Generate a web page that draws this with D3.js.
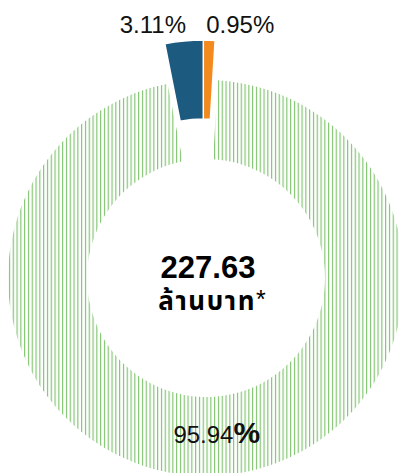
<!DOCTYPE html>
<html>
<head>
<meta charset="utf-8">
<script src="https://cdn.jsdelivr.net/npm/d3@7/dist/d3.min.js"></script>
<style>
  html, body { margin: 0; padding: 0; background: #ffffff; }
  svg { display: block; }
</style>
</head>
<body>
<svg id="chart" width="400" height="473"></svg>
<script>
// Budget split (percent of total), in drawing order clockwise from 12 o'clock
const categories = ["Other", "Main", "Secondary"];
const shares = [0.95, 95.94, 3.11];
const sliceColors = ["#f28a1e", "url(#hatch)", "#1d5a80"];
const explodedSlices = ["Other", "Secondary"];

// Total shown in the hole
const totalValue = 227.63;
const totalUnit = "ล้านบาท";

const svg = d3.select("#chart");
const cx = 206, cy = 278;
const rInner = 119, rOuter = 198;
const explodeDist = 40;

// Vertical line hatch for the large slice
const defs = svg.append("defs");
const pat = defs.append("pattern")
  .attr("id", "hatch")
  .attr("patternUnits", "userSpaceOnUse")
  .attr("x", 0.5).attr("y", 0)
  .attr("width", 3.8).attr("height", 8);
pat.append("rect")
  .attr("x", 0).attr("y", 0)
  .attr("width", 1.15).attr("height", 8)
  .attr("fill", "#80c36e");

const pie = d3.pie().sort(null).value(d => d.value);
const data = categories.map((c, i) => ({ key: c, value: shares[i], color: sliceColors[i] }));
const arcs = pie(data);

const arc = d3.arc().innerRadius(rInner).outerRadius(rOuter);

// Signed mid angle in (-PI, PI]
const midAngle = a => {
  let m = (a.startAngle + a.endAngle) / 2;
  if (m > Math.PI) m -= 2 * Math.PI;
  return m;
};

// The small slices are pulled out together along their shared bisector
const exploded = arcs.filter(a => explodedSlices.includes(a.data.key));
const wSum = d3.sum(exploded, a => a.data.value);
const bisector = d3.sum(exploded, a => midAngle(a) * a.data.value) / wSum;
const off = [explodeDist * Math.sin(bisector), -explodeDist * Math.cos(bisector)];

const g = svg.append("g").attr("transform", `translate(${cx},${cy})`);

g.selectAll("path.slice")
  .data(arcs)
  .join("path")
  .attr("class", "slice")
  .attr("d", arc)
  .attr("fill", d => d.data.color)
  .attr("stroke", d => explodedSlices.includes(d.data.key) ? "#ffffff" : "none")
  .attr("stroke-width", 1.5)
  .attr("transform", d => explodedSlices.includes(d.data.key) ? `translate(${off[0]},${off[1]})` : null);

const fmt = d3.format(".2f");

// Labels above the pulled-out slices
const labelArc = d3.arc().innerRadius(rOuter).outerRadius(rOuter);
exploded.forEach(a => {
  const c = labelArc.centroid(a);
  const m = midAngle(a);
  g.append("text")
    .attr("x", c[0] + off[0] + (m < 0 ? 2 : -3))
    .attr("y", -rOuter + off[1] - 7)
    .attr("text-anchor", m < 0 ? "end" : "start")
    .attr("font-family", "'Liberation Sans', Arial, sans-serif")
    .attr("font-size", 24)
    .attr("fill", "#111111")
    .text(fmt(a.data.value) + "%");
});

// Label inside the large slice
const mainArc = arcs.find(a => !explodedSlices.includes(a.data.key));
const mc = arc.centroid(mainArc);
const mainLabel = g.append("text")
  .attr("x", mc[0])
  .attr("y", mc[1] + 7)
  .attr("text-anchor", "middle")
  .attr("font-family", "'Liberation Sans', Arial, sans-serif")
  .attr("fill", "#111111");
mainLabel.append("tspan").attr("font-size", 24).text(fmt(mainArc.data.value));
mainLabel.append("tspan").attr("font-size", 30).attr("font-weight", "bold").text("%");

// Centre total
g.append("text")
  .attr("x", 2).attr("y", 0)
  .attr("text-anchor", "middle")
  .attr("font-family", "'Liberation Sans', Arial, sans-serif")
  .attr("font-weight", "bold")
  .attr("font-size", 31)
  .attr("fill", "#000000")
  .text(fmt(totalValue));

const unit = g.append("text")
  .attr("x", 6).attr("y", 32)
  .attr("text-anchor", "middle")
  .attr("fill", "#000000");
unit.append("tspan")
  .attr("font-family", "'Noto Sans Thai', 'Noto Sans', 'DejaVu Sans', sans-serif")
  .attr("font-weight", "bold")
  .attr("font-size", 26)
  .attr("letter-spacing", 1.6)
  .text(totalUnit);
unit.append("tspan")
  .attr("font-family", "'Liberation Sans', Arial, sans-serif")
  .attr("font-weight", "normal")
  .attr("font-size", 25)
  .attr("dy", -2)
  .text("*");
</script>
</body>
</html>
